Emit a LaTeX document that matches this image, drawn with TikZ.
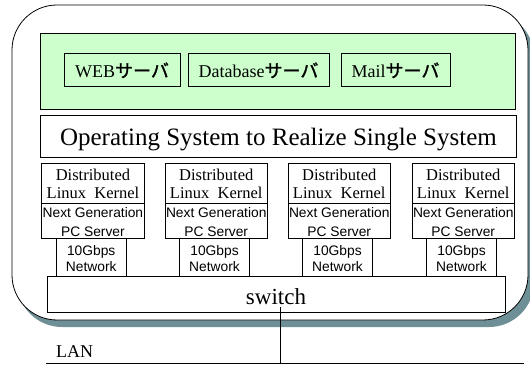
\documentclass[tikz,border=0pt]{standalone}
\usepackage{fontspec}
\setmainfont{Liberation Serif}
\newfontfamily\arialf{Liberation Sans}
\newfontfamily\cjk[FakeBold=1.6]{Noto Sans CJK JP}
\definecolor{shadowc}{RGB}{110,143,150}
\definecolor{greenc}{RGB}{204,255,204}
\begin{document}
\begin{tikzpicture}[x=1pt,y=-1pt,
  box/.style={draw=black, line width=0.8pt, anchor=north west, inner sep=0pt, outer sep=0pt},
  sertext/.style={font=\fontsize{16.5}{18}\selectfont, anchor=base, inner sep=0pt},
  sanstext/.style={font=\arialf\fontsize{13.8}{15}\selectfont, anchor=base, inner sep=0pt},
  srvtext/.style={font=\fontsize{18}{20}\selectfont, anchor=base, inner sep=0pt},
  link/.style={draw=black, line width=0.8pt}]
\useasboundingbox (0,0) rectangle (530,366);
% outer frame with shadow
\fill[shadowc, rounded corners=45pt] (17,12) rectangle (534,327);
\draw[fill=white, line width=0.8pt, rounded corners=45pt] (12,5) rectangle (528,320);
% application layer
\node[box, fill=greenc, minimum width=475pt, minimum height=76pt] (app) at (40.7,33) {};
\node[box, minimum width=116pt, minimum height=33pt] (web) at (64,53) {};
\node[box, minimum width=141pt, minimum height=33pt] (db) at (188,53) {};
\node[box, minimum width=109pt, minimum height=33pt] (mail) at (341,53) {};
\node[srvtext] (webt) at (122,77.3) {WEB{\cjk サーバ}};
\node[srvtext] (dbt) at (258.5,77.3) {Database{\cjk サーバ}};
\node[srvtext] (mailt) at (395.5,77.3) {Mail{\cjk サーバ}};
% OS layer
\node[box, minimum width=475.3pt, minimum height=42pt] (os) at (40.7,115) {};
\node[font=\fontsize{25}{28}\selectfont, anchor=base, inner sep=0pt] (ost) at (278.4,145.5) {Operating System to Realize Single System};
% columns
\foreach \i/\x in {1/41.7, 2/165, 3/288, 4/412} {
  \node[box, minimum width=102.5pt, minimum height=40pt] (dk\i) at (\x,163) {};
  \node[box, minimum width=102.5pt, minimum height=35pt] (pc\i) at (\x,203) {};
  \node[box, minimum width=70pt, minimum height=38pt] (nw\i) at (\x+14.5,238) {};
  \node[sertext] (dkt\i) at (\x+51.25,181) {Distributed};
  \node[sertext] (dku\i) at (\x+51.25,199) {Linux\ \ Kernel};
  \node[sanstext] (pct\i) at (\x+51.25,217.7) {Next Generation};
  \node[sanstext] (pcu\i) at (\x+51.25,236.7) {PC Server};
  \node[sanstext] (nwt\i) at (\x+49.5,255) {10Gbps};
  \node[sanstext] (nwu\i) at (\x+49.5,271) {Network};
}
% switch
\node[box, minimum width=458pt, minimum height=36pt] (sw) at (47,276) {};
\node[font=\fontsize{23}{25}\selectfont, anchor=base, inner sep=0pt] (swt) at (276,304) {switch};
% LAN
\coordinate (swport) at (280,307);
\coordinate (lanl) at (46,363);
\coordinate (lanr) at (524,363);
\coordinate (lanport) at (280,363);
\draw[link] (lanl) -- (lanr);
\draw[link] (swport) -- (lanport);
\node[font=\fontsize{18}{20}\selectfont, anchor=base west, inner sep=0pt] (lant) at (56,357) {LAN};
\end{tikzpicture}
\end{document}
